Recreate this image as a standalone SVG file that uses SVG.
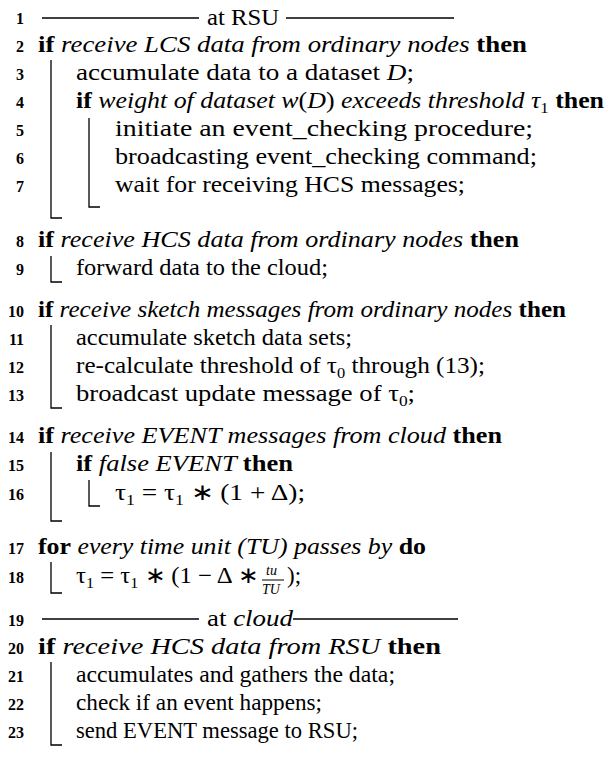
<svg xmlns="http://www.w3.org/2000/svg" width="616" height="764" viewBox="0 0 616 764">
<style>
text{font-family:"Liberation Serif",serif;font-size:23px;fill:#000}
.n{font-size:16px;font-weight:bold;text-anchor:end}
.b{font-weight:bold}
.i{font-style:italic}
.s{font-size:15px}
.f{font-size:14px;font-style:italic}
line,polyline{stroke:#000;stroke-width:1.3;fill:none}
</style>
<rect width="616" height="764" fill="#fff"/>
<g id="numbers">
<text class="n" x="24" y="24">1</text><text class="n" x="24" y="52">2</text><text class="n" x="24" y="80">3</text><text class="n" x="24" y="108">4</text><text class="n" x="24" y="136">5</text><text class="n" x="24" y="164">6</text><text class="n" x="24" y="192">7</text><text class="n" x="24" y="247">8</text><text class="n" x="24" y="275">9</text><text class="n" x="24" y="317">10</text><text class="n" x="24" y="345">11</text><text class="n" x="24" y="373">12</text><text class="n" x="24" y="401">13</text><text class="n" x="24" y="443">14</text><text class="n" x="24" y="471">15</text><text class="n" x="24" y="500">16</text><text class="n" x="24" y="554">17</text><text class="n" x="24" y="583">18</text><text class="n" x="24" y="626">19</text><text class="n" x="24" y="654">20</text><text class="n" x="24" y="682">21</text><text class="n" x="24" y="710">22</text><text class="n" x="24" y="738">23</text>
</g>
<g id="rsu-header">
<line x1="42" y1="18" x2="199" y2="18"/><text x="207" y="25" textLength="72" lengthAdjust="spacingAndGlyphs">at RSU</text><line x1="286" y1="18" x2="454" y2="18"/>
</g>
<g id="block1">
<text x="38" y="52" textLength="489" lengthAdjust="spacingAndGlyphs"><tspan class="b">if</tspan><tspan class="i"> receive LCS data from ordinary nodes </tspan><tspan class="b"> then</tspan></text>
<text x="76" y="80" textLength="338" lengthAdjust="spacingAndGlyphs">accumulate data to a dataset <tspan class="i">D</tspan>;</text>
<text x="76" y="108" textLength="528" lengthAdjust="spacingAndGlyphs"><tspan class="b">if</tspan><tspan class="i"> weight of dataset w</tspan>(<tspan class="i">D</tspan>)<tspan class="i"> exceeds threshold τ</tspan><tspan class="s" dy="5">1</tspan><tspan class="b" dy="-5">  then</tspan></text>
<text x="115" y="136" textLength="418" lengthAdjust="spacingAndGlyphs">initiate an event_checking procedure;</text>
<text x="115" y="164" textLength="422" lengthAdjust="spacingAndGlyphs">broadcasting event_checking command;</text>
<text x="115" y="192" textLength="350" lengthAdjust="spacingAndGlyphs">wait for receiving HCS messages;</text>
</g>
<g id="block2">
<text x="38" y="247" textLength="481" lengthAdjust="spacingAndGlyphs"><tspan class="b">if</tspan><tspan class="i"> receive HCS data from ordinary nodes </tspan><tspan class="b"> then</tspan></text>
<text x="76" y="275" textLength="252" lengthAdjust="spacingAndGlyphs">forward data to the cloud;</text>
</g>
<g id="block3">
<text x="38" y="317" textLength="528" lengthAdjust="spacingAndGlyphs"><tspan class="b">if</tspan><tspan class="i"> receive sketch messages from ordinary nodes </tspan><tspan class="b"> then</tspan></text>
<text x="76" y="345" textLength="276" lengthAdjust="spacingAndGlyphs">accumulate sketch data sets;</text>
<text x="76" y="373" textLength="409" lengthAdjust="spacingAndGlyphs">re-calculate threshold of τ<tspan class="s" dy="5">0</tspan><tspan dy="-5"> through (13);</tspan></text>
<text x="76" y="401" textLength="339" lengthAdjust="spacingAndGlyphs">broadcast update message of τ<tspan class="s" dy="5">0</tspan><tspan dy="-5">;</tspan></text>
</g>
<g id="block4">
<text x="38" y="443" textLength="464" lengthAdjust="spacingAndGlyphs"><tspan class="b">if</tspan><tspan class="i"> receive EVENT messages from cloud </tspan><tspan class="b"> then</tspan></text>
<text x="76" y="471" textLength="217" lengthAdjust="spacingAndGlyphs"><tspan class="b">if</tspan><tspan class="i"> false EVENT </tspan><tspan class="b">then</tspan></text>
<text x="115" y="500" textLength="190" lengthAdjust="spacingAndGlyphs">τ<tspan class="s" dy="5">1</tspan><tspan dy="-5"> = τ</tspan><tspan class="s" dy="5">1</tspan><tspan dy="-5"> ∗ (1 + Δ);</tspan></text>
</g>
<g id="block5">
<text x="38" y="554" textLength="388" lengthAdjust="spacingAndGlyphs"><tspan class="b">for</tspan><tspan class="i"> every time unit (TU) passes by </tspan><tspan class="b">do</tspan></text>
<text x="76" y="583" textLength="182" lengthAdjust="spacingAndGlyphs">τ<tspan class="s" dy="5">1</tspan><tspan dy="-5"> = τ</tspan><tspan class="s" dy="5">1</tspan><tspan dy="-5"> ∗ (1 − Δ ∗</tspan></text>
<text class="f" x="266" y="575">tu</text><line x1="262" y1="580" x2="284" y2="580" style="stroke-width:1"/><text class="f" x="262" y="594">TU</text>
<text x="287" y="583">);</text>
</g>
<g id="cloud-header">
<line x1="42" y1="619" x2="199" y2="619"/><text x="207" y="626" textLength="86" lengthAdjust="spacingAndGlyphs">at <tspan class="i">cloud</tspan></text><line x1="293" y1="619" x2="458" y2="619"/>
</g>
<g id="block6">
<text x="38" y="654" textLength="403" lengthAdjust="spacingAndGlyphs"><tspan class="b">if</tspan><tspan class="i"> receive HCS data from RSU </tspan><tspan class="b"> then</tspan></text>
<text x="76" y="682" textLength="319" lengthAdjust="spacingAndGlyphs">accumulates and gathers the data;</text>
<text x="76" y="710" textLength="246" lengthAdjust="spacingAndGlyphs">check if an event happens;</text>
<text x="76" y="738" textLength="282" lengthAdjust="spacingAndGlyphs">send EVENT message to RSU;</text>
</g>
<g id="connectors">
<polyline points="51,60 51,218 62,218"/>
<polyline points="89,118 89,207 100,207"/>
<polyline points="51,256 51,282 62,282"/>
<polyline points="51,325 51,408 62,408"/>
<polyline points="51,452 51,521 62,521"/>
<polyline points="89,480 89,506 100,506"/>
<polyline points="51,562 51,593 62,593"/>
<polyline points="51,662 51,745 62,745"/>
</g>
</svg>
